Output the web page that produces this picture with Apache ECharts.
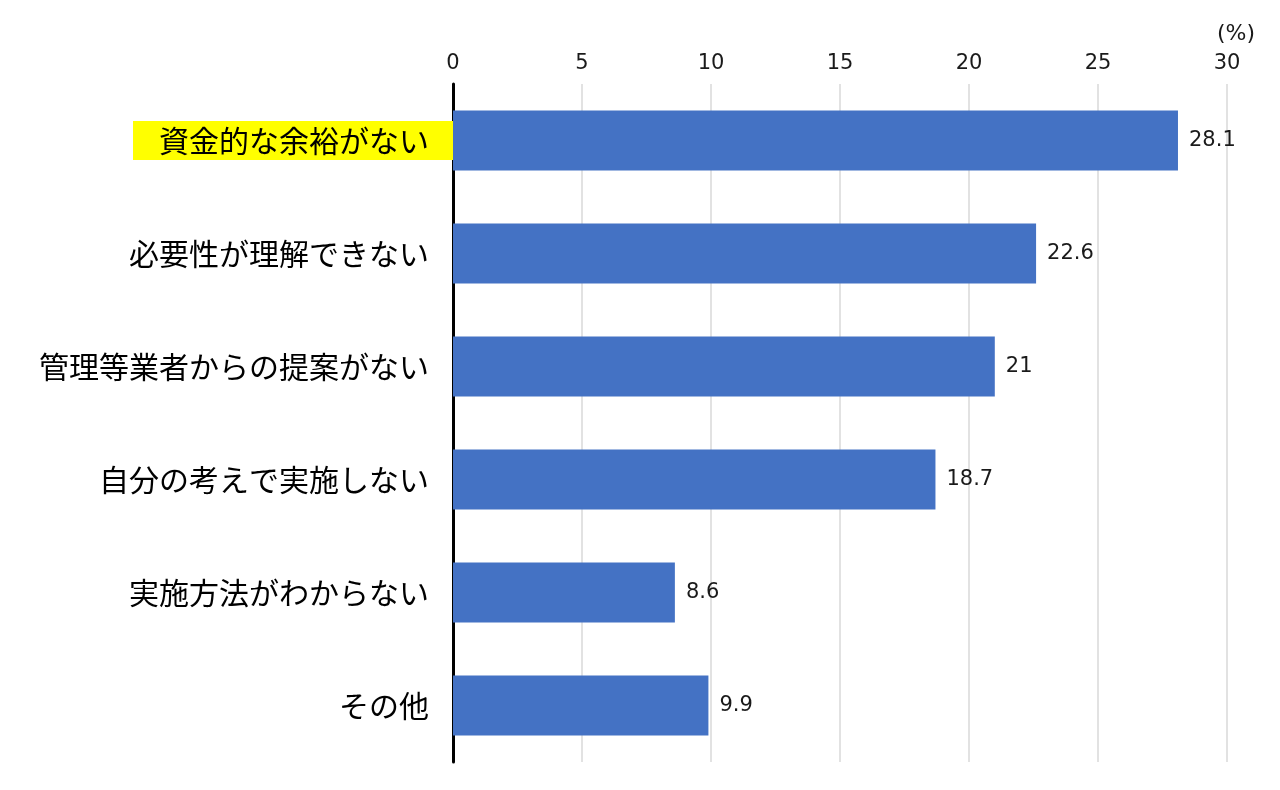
<!DOCTYPE html>
<html><head><meta charset="utf-8">
<script src="https://cdn.jsdelivr.net/npm/echarts@6/dist/echarts.min.js"></script>
<style>html,body{margin:0;padding:0;background:#fff}#c{width:1280px;height:790px}</style>
</head><body><div id="c"></div>
<script>
const categories = ['資金的な余裕がない','必要性が理解できない','管理等業者からの提案がない','自分の考えで実施しない','実施方法がわからない','その他'];
const values = [28.1, 22.6, 21, 18.7, 8.6, 9.9];
const highlighted = ['資金的な余裕がない'];
const unitLabel = '(%)';

const FONT = '"Noto Sans CJK JP", "Noto Sans", sans-serif';
const NUMFONT = '"DejaVu Sans", "Noto Sans", sans-serif';
const chart = echarts.init(document.getElementById('c'));
chart.setOption({
  animation: false,
  title: { text: unitLabel, right: 20, top: 18, textStyle: { fontFamily: NUMFONT, fontSize: 22, fontWeight: 'normal', color: '#1a1a1a' } },
  grid: { left: 453, right: 53, top: 84, bottom: 28 },
  xAxis: {
    type: 'value', position: 'top', min: 0, max: 30, interval: 5,
    axisLine: { show: false }, axisTick: { show: false },
    axisLabel: { fontFamily: NUMFONT, fontSize: 21, color: '#1a1a1a', margin: 10 },
    splitLine: { show: true, lineStyle: { color: '#d9d9d9', width: 1.5 } }
  },
  yAxis: {
    type: 'category', inverse: true, data: categories,
    axisLine: { show: true, lineStyle: { color: '#000', width: 3 } },
    axisTick: { show: false },
    axisLabel: {
      margin: 0,
      formatter: v => highlighted.includes(v) ? '{hl|' + v + '}' : '{n|' + v + '}',
      rich: {
        hl: { fontFamily: FONT, fontSize: 30, color: '#000', backgroundColor: '#ffff00', padding: [5, 24, 4, 26] },
        n: { fontFamily: FONT, fontSize: 30, color: '#000', padding: [5, 24, 4, 26] }
      }
    }
  },
  series: [{
    type: 'bar', data: values, barWidth: 60,
    itemStyle: { color: '#4472c4' },
    label: { show: true, position: 'right', distance: 11, fontFamily: NUMFONT, fontSize: 21, color: '#1a1a1a' }
  }]
});
</script></body></html>
